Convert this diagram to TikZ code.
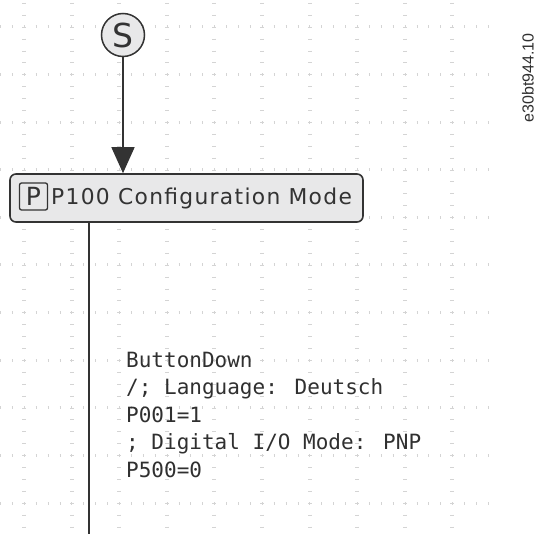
\documentclass[tikz,border=0pt]{standalone}
\usepackage{fontspec}
\usepackage{xcolor}
\usetikzlibrary{arrows.meta,calc}
\newfontfamily\uifont[LetterSpace=6]{DejaVu Sans}
\newfontfamily\glyphfont{DejaVu Sans}
\newfontfamily\codefont{DejaVu Sans Mono}
\newfontfamily\tagfont{Liberation Sans}
\definecolor{canvas}{HTML}{FFFFFF}
\definecolor{gridgray}{HTML}{D4D4D4}
\definecolor{ink}{HTML}{333333}
\definecolor{boxfill}{HTML}{E8E8E9}
\definecolor{codeink}{HTML}{303030}

\begin{document}
\begin{tikzpicture}[x=1pt,y=-1pt,>=Latex,
gridrow/.style={draw=gridgray,line width=3pt,dash pattern=on 1pt off 10.9pt},gridcol/.style={draw=gridgray,line width=4pt,dash pattern=on 1pt off 10.9pt},flow/.style={draw=ink,line width=1.5pt},startdot/.style={circle,draw=ink,fill=boxfill,line width=1.5pt,minimum size=43pt,inner sep=0pt,text=ink,font=\glyphfont\fontsize{33}{33}\selectfont},statebox/.style={rectangle,rounded corners=6pt,draw=ink,fill=boxfill,line width=1.6pt,minimum width=353pt,minimum height=48pt,inner sep=0pt},ptag/.style={rectangle,rounded corners=2pt,draw=ink,line width=1.3pt,minimum width=28pt,minimum height=27pt,inner sep=0pt,text=ink,font=\glyphfont\fontsize{25}{25}\selectfont},statelabel/.style={inner sep=0pt,text=ink,font=\uifont\fontsize{21.8}{22}\selectfont},guard/.style={inner sep=0pt,align=left,text=codeink,font=\codefont\fontsize{21}{27.5}\selectfont},docid/.style={inner sep=0pt,text=codeink,font=\tagfont\fontsize{16}{16}\selectfont}]
\fill[canvas] (0,0) rectangle (538,534);
\useasboundingbox (0,0) rectangle (538,534);
\foreach \k in {0,...,10}{\draw[gridrow] (0,27+47.6*\k)--(488,27+47.6*\k);}
\foreach \k in {0,...,9}{\draw[gridcol] (24+47.6*\k,3)--(24+47.6*\k,534);}
\node[startdot] (start) at (123,35) {S};
\node[statebox] (p100) at (186.5,198) {};
\node[ptag] (ptagbox) at (33.5,196.5) {P};
\node[statelabel,anchor=base west] (p100label) at (51,205) {P100 Configuration Mode};
\draw[flow,-{Triangle[length=26pt,width=23pt]}] (start)--(start |- p100.north);
\coordinate (tail) at (89,534);
\draw[flow] (p100.south -| tail)--(tail);
\node[guard,anchor=base west] (btnlabel) at (126,477) {ButtonDown\\/; Language: Deutsch\\P001=1\\; Digital I/O Mode: PNP\\P500=0};
\node[docid,rotate=90] (docid) at (528,78) {e30bt944.10};
\end{tikzpicture}
\end{document}
